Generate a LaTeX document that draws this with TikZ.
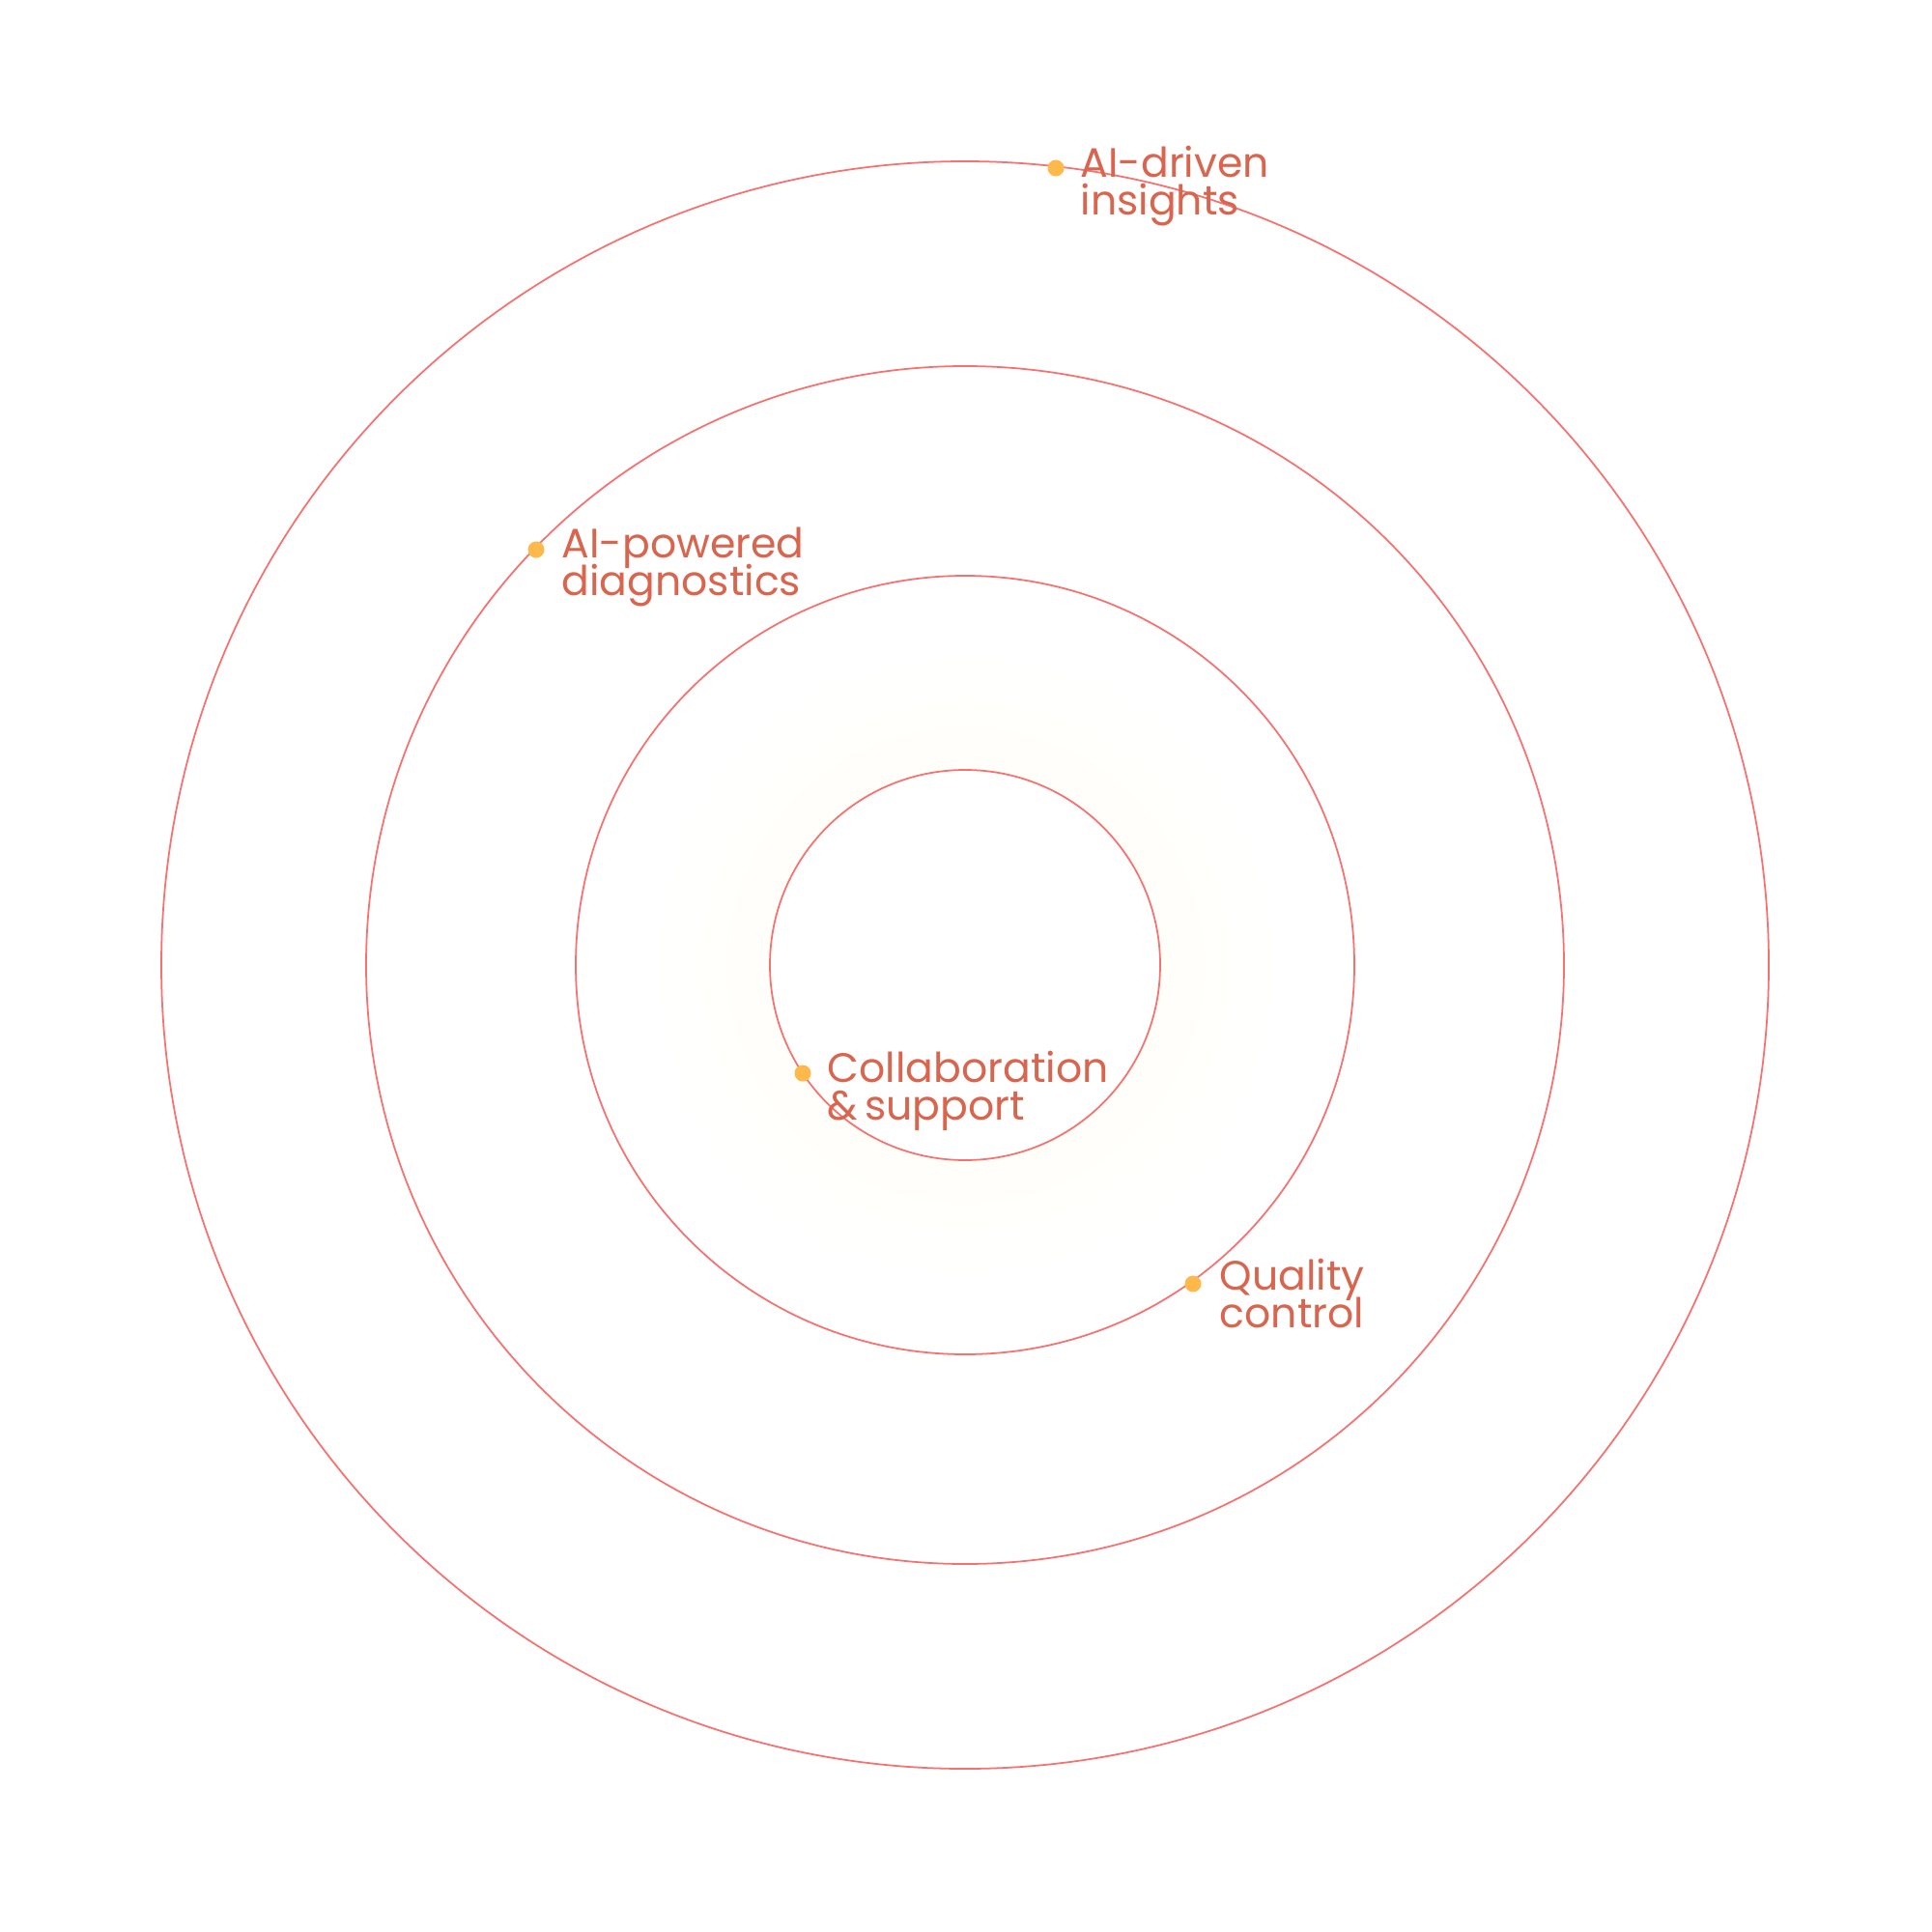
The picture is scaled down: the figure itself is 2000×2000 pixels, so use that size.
\documentclass[tikz,border=0pt]{standalone}
\usepackage{fontspec}
\setmainfont{Poppins}
\definecolor{ringc}{HTML}{F87171}
\definecolor{textc}{HTML}{D9654F}
\definecolor{dotc}{HTML}{FFB84A}
\definecolor{glowc}{HTML}{FFFDF0}
\begin{document}
\begin{tikzpicture}[x=0.01cm,y=-0.01cm,
  ring/.style={draw=ringc,line width=0.5pt},
  dotnode/.style={circle,fill=dotc,inner sep=0pt,minimum size=0.17cm},
  lbl/.style={text=textc,inner sep=0pt,anchor=base west,font=\fontsize{12.1pt}{14pt}\selectfont}]
\useasboundingbox (0,0) rectangle (2000,2000);
\fill[white] (0,0) rectangle (2000,2000);
\coordinate (c) at (999,999);
% faint glow around inner ring
\shade[inner color=glowc,outer color=white] (c) circle[radius=330];
\fill[white] (c) circle[radius=202];
\draw[ring] (c) circle[radius=202];
\draw[ring] (c) circle[radius=403];
\draw[ring] (c) circle[radius=620];
\draw[ring] (c) circle[radius=832];
% dots
\node[dotnode] (d1) at (1093,174) {};
\node[dotnode] (d2) at (555,569) {};
\node[dotnode] (d3) at (831,1111) {};
\node[dotnode] (d4) at (1235,1329) {};
% labels
\node[lbl] (l1a) at (1118,183) {AI-driven};
\node[lbl] (l1b) at (1118,222) {insights};
\node[lbl] (l2a) at (581,577) {AI-powered};
\node[lbl] (l2b) at (581,616) {diagnostics};
\node[lbl] (l3a) at (856,1120) {Collaboration};
\node[lbl] (l3b) at (856,1159) {\&\,support};
\node[lbl] (l4a) at (1262,1335) {Quality};
\node[lbl] (l4b) at (1262,1374) {control};
\end{tikzpicture}
\end{document}
